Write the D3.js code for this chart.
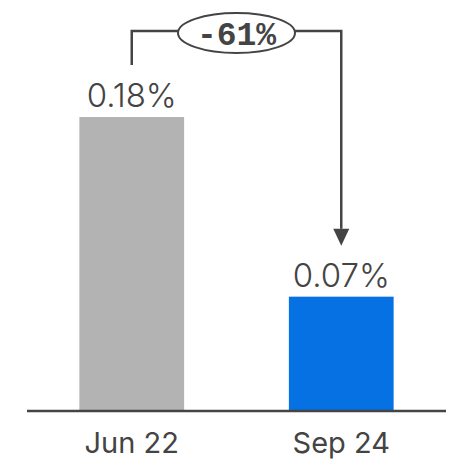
<!DOCTYPE html>
<html><head><meta charset="utf-8">
<script src="https://cdn.jsdelivr.net/npm/d3@7"></script>
<style>body{margin:0;background:#fff}svg{display:block}</style>
</head><body>
<svg id="c" width="462" height="461"></svg>
<script>
const categories = ["Jun 22", "Sep 24"];
const values = [0.18, 0.07];
const valueLabels = ["0.18%", "0.07%"];
const barColors = ["#b3b3b3", "#0671e3"];
const changeLabel = "-61%";

const svg = d3.select("#c");
const x = d3.scaleBand().domain(categories).range([27, 446]).paddingInner(0.5).paddingOuter(0.25);
const y = d3.scaleLinear().domain([0, 0.18]).range([411, 117]);
const textCol = "#444";

svg.selectAll("rect.bar").data(categories).join("rect")
  .attr("class","bar")
  .attr("x", d => x(d)).attr("width", x.bandwidth())
  .attr("y", (d,i) => y(values[i])).attr("height", (d,i) => y(0) - y(values[i]))
  .attr("fill", (d,i) => barColors[i]);

svg.selectAll("text.val").data(categories).join("text")
  .attr("class","val")
  .attr("x", d => x(d) + x.bandwidth()/2)
  .attr("y", (d,i) => y(values[i]) - 10)
  .attr("text-anchor","middle")
  .attr("font-family","Inter, sans-serif").attr("font-weight",300)
  .attr("font-size",33).attr("fill",textCol)
  .text((d,i) => valueLabels[i]);

// axis
const xAxis = d3.axisBottom(x).tickSize(0).tickPadding(21);
const g = svg.append("g").attr("transform",`translate(0,${y(0)})`).call(xAxis);
g.select(".domain").attr("d","M27,0H446").attr("stroke","#444").attr("stroke-width",2.5);
g.selectAll(".tick text").attr("font-family","Inter, sans-serif").attr("font-size",29)
  .attr("fill",textCol).attr("dy","0.71em");

// connector
const x1 = x(categories[0]) + x.bandwidth()/2;
const x2 = x(categories[1]) + x.bandwidth()/2;
const yTop = 31;
const cx = 236.5, rx = 58.5, ry = 20;
const stroke = "#444";
svg.append("path")
  .attr("d", `M${x1},${y(values[0]) - 52}V${yTop}H${cx - rx}`)
  .attr("fill","none").attr("stroke",stroke).attr("stroke-width",2.5);
svg.append("path")
  .attr("d", `M${cx + rx},${yTop}H${x2}V${y(values[1]) - 68}`)
  .attr("fill","none").attr("stroke",stroke).attr("stroke-width",2.5);
const tipY = y(values[1]) - 51;
svg.append("path")
  .attr("d", `M${x2-8},${tipY-17}L${x2+8},${tipY-17}L${x2},${tipY}Z`)
  .attr("fill",stroke);
svg.append("ellipse").attr("cx",cx).attr("cy",33).attr("rx",rx).attr("ry",ry)
  .attr("fill","#fff").attr("stroke",stroke).attr("stroke-width",2);
svg.append("text").attr("x",cx).attr("y",33).attr("dy","0.36em")
  .attr("text-anchor","middle")
  .attr("font-family","'Liberation Mono', monospace").attr("font-weight","bold")
  .attr("font-size",33).attr("fill",textCol).text(changeLabel);
</script>
</body></html>
